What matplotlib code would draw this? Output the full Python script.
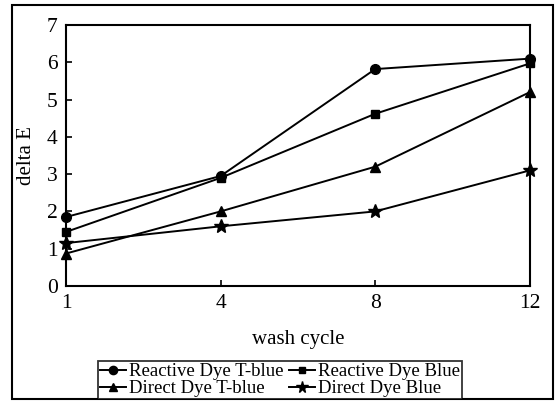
import matplotlib
matplotlib.use("Agg")
import matplotlib.pyplot as plt
from matplotlib.patches import Rectangle

plt.rcParams['font.family'] = ['Liberation Serif', 'DejaVu Serif']

# data
cycles = ["1", "4", "8", "12"]
reactive_tblue = [1.85, 2.95, 5.82, 6.1]
reactive_blue = [1.45, 2.9, 4.62, 5.97]
direct_tblue = [0.87, 2.0, 3.2, 5.2]
direct_blue = [1.15, 1.6, 2.0, 3.1]
yticks = [0, 1, 2, 3, 4, 5, 6, 7]

fig = plt.figure(figsize=(5.6, 4.05), dpi=100)
ax = fig.add_axes([0.118, 0.294, 0.828, 0.644])

xs = list(range(len(cycles)))
l1, = ax.plot(xs, reactive_tblue, color="k", lw=1.4, marker="o", ms=7, clip_on=False)
l2, = ax.plot(xs, reactive_blue, color="k", lw=1.4, marker="s", ms=5.5, clip_on=False)
l3, = ax.plot(xs, direct_tblue, color="k", lw=1.4, marker="^", ms=6.5, clip_on=False)
l4, = ax.plot(xs, direct_blue, color="k", lw=1.4, marker="*", ms=10, clip_on=False)

ax.set_xlim(0, len(cycles) - 1)
ax.set_ylim(0, 7)
ax.set_xticks(xs)
ax.set_xticklabels(cycles)
ax.set_yticks(yticks)
ax.tick_params(direction="in", length=4, width=1.2, labelsize=15.5, colors="k", pad=6)
for sp in ax.spines.values():
    sp.set_linewidth(1.5)

ax.set_xlabel("wash cycle", fontsize=15, labelpad=12)
ax.set_ylabel("delta E", fontsize=15, labelpad=8)

# ncol=2 fills column by column
leg = fig.legend([l1, l3, l2, l4],
                 ["Reactive Dye T-blue", "Direct Dye T-blue",
                  "Reactive Dye Blue", "Direct Dye Blue"],
                 ncol=2, loc="upper center", bbox_to_anchor=(0.5, 0.108),
                 fontsize=13.5, frameon=True, fancybox=False, edgecolor="k",
                 handlelength=1.4, handletextpad=0.15, columnspacing=0.3,
                 borderpad=0.1, labelspacing=0.0, borderaxespad=0,
                 markerscale=0.85)
leg.get_frame().set_linewidth(1.3)

# outer frame round the whole chart
fig.patches.append(Rectangle((0.022, 0.015), 0.966, 0.972, transform=fig.transFigure,
                             fill=False, edgecolor="k", lw=1.5))

fig.savefig("out.png", dpi=100)
